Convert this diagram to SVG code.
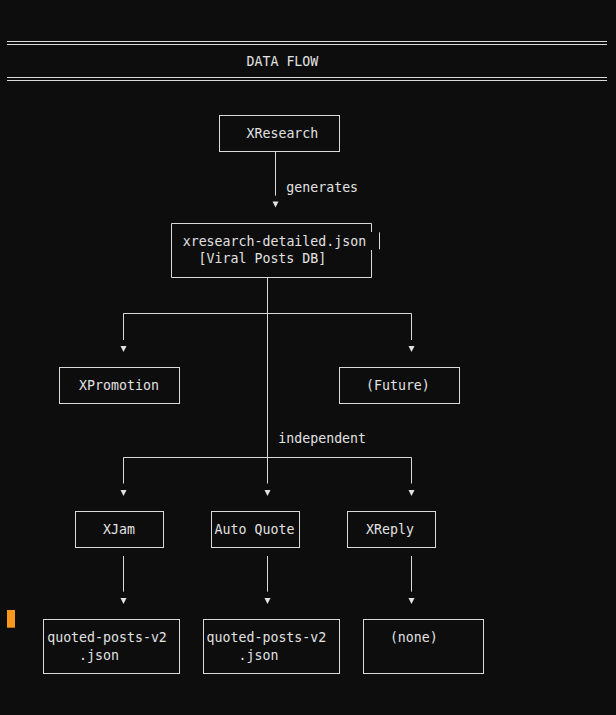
<svg xmlns="http://www.w3.org/2000/svg" width="616" height="715" viewBox="0 0 616 715">
<style>
  .bg { fill: #0d0d0d; }
  .box { fill: none; stroke: #d9d9d9; stroke-width: 1; }
  .ln { fill: none; stroke: #d9d9d9; stroke-width: 1; }
  .t { font-family: "DejaVu Sans Mono", "Liberation Mono", monospace; font-size: 13.25px; fill: #e2e2e2; }
  .arr { fill: #e2e2e2; }
</style>
<rect class="bg" x="0" y="0" width="616" height="715"/>

<g id="header">
  <path class="ln" d="M7,41.5 H607 M7,44.5 H607 M7,77.5 H607 M7,80.5 H607"/>
  <text class="t" x="246.5" y="66">DATA FLOW</text>
</g>

<g id="connectors">
  <path class="ln" d="M275.5,151.5 V195.7"/>
  <polygon class="arr" points="272.5,201.5 278.5,201.5 275.5,207.5"/>
  <text class="t" x="286.3" y="192">generates</text>

  <path class="ln" d="M267.5,277.5 V483.5"/>
  <path class="ln" d="M123.5,340 V313.5 H411.5 V340"/>
  <polygon class="arr" points="120.5,346 126.5,346 123.5,352"/>
  <polygon class="arr" points="408.5,346 414.5,346 411.5,352"/>

  <text class="t" x="278.3" y="443.3">independent</text>
  <path class="ln" d="M123.5,483.5 V457.5 H411.5 V483.5"/>
  <polygon class="arr" points="120.5,490 126.5,490 123.5,496"/>
  <polygon class="arr" points="264.5,490 270.5,490 267.5,496"/>
  <polygon class="arr" points="408.5,490 414.5,490 411.5,496"/>

  <path class="ln" d="M123.5,556 V591.7 M267.5,556 V591.7 M411.5,556 V591.7"/>
  <polygon class="arr" points="120.5,598 126.5,598 123.5,604"/>
  <polygon class="arr" points="264.5,598 270.5,598 267.5,604"/>
  <polygon class="arr" points="408.5,598 414.5,598 411.5,604"/>
</g>

<g id="xresearch">
  <rect class="box" x="219.5" y="115.5" width="120" height="36"/>
  <text class="t" x="246.5" y="138.3">XResearch</text>
</g>

<g id="xresearch-json">
  <path class="box" d="M371.5,232 V223.5 H171.5 V277.5 H371.5 V250"/>
  <path class="box" d="M379.5,232.3 V249.3"/>
  <text class="t" x="182.7" y="246">xresearch-detailed.json</text>
  <text class="t" x="198.6" y="263.3">[Viral Posts DB]</text>
</g>

<g id="xpromotion">
  <rect class="box" x="59.5" y="367.5" width="120" height="36"/>
  <text class="t" x="79.1" y="390">XPromotion</text>
</g>

<g id="future">
  <rect class="box" x="339.5" y="367.5" width="120" height="36"/>
  <text class="t" x="366" y="390">(Future)</text>
</g>

<g id="xjam">
  <rect class="box" x="75.5" y="511.5" width="88" height="36"/>
  <text class="t" x="103" y="534">XJam</text>
</g>

<g id="autoquote">
  <rect class="box" x="211.5" y="511.5" width="88" height="36"/>
  <text class="t" x="214.6" y="534">Auto Quote</text>
</g>

<g id="xreply">
  <rect class="box" x="347.5" y="511.5" width="88" height="36"/>
  <text class="t" x="366" y="534">XReply</text>
</g>

<g id="out-xjam">
  <rect class="box" x="43.5" y="619.5" width="136" height="54"/>
  <text class="t" x="47.2" y="642">quoted-posts-v2</text>
  <text class="t" x="79.1" y="660">.json</text>
</g>

<g id="out-autoquote">
  <rect class="box" x="203.5" y="619.5" width="136" height="54"/>
  <text class="t" x="206.6" y="642">quoted-posts-v2</text>
  <text class="t" x="238.5" y="660">.json</text>
</g>

<g id="out-xreply">
  <rect class="box" x="363.5" y="619.5" width="120" height="54"/>
  <text class="t" x="389.9" y="642">(none)</text>
</g>

<rect id="cursor" x="7" y="610" width="8" height="17.7" fill="#f7991c"/>
</svg>
